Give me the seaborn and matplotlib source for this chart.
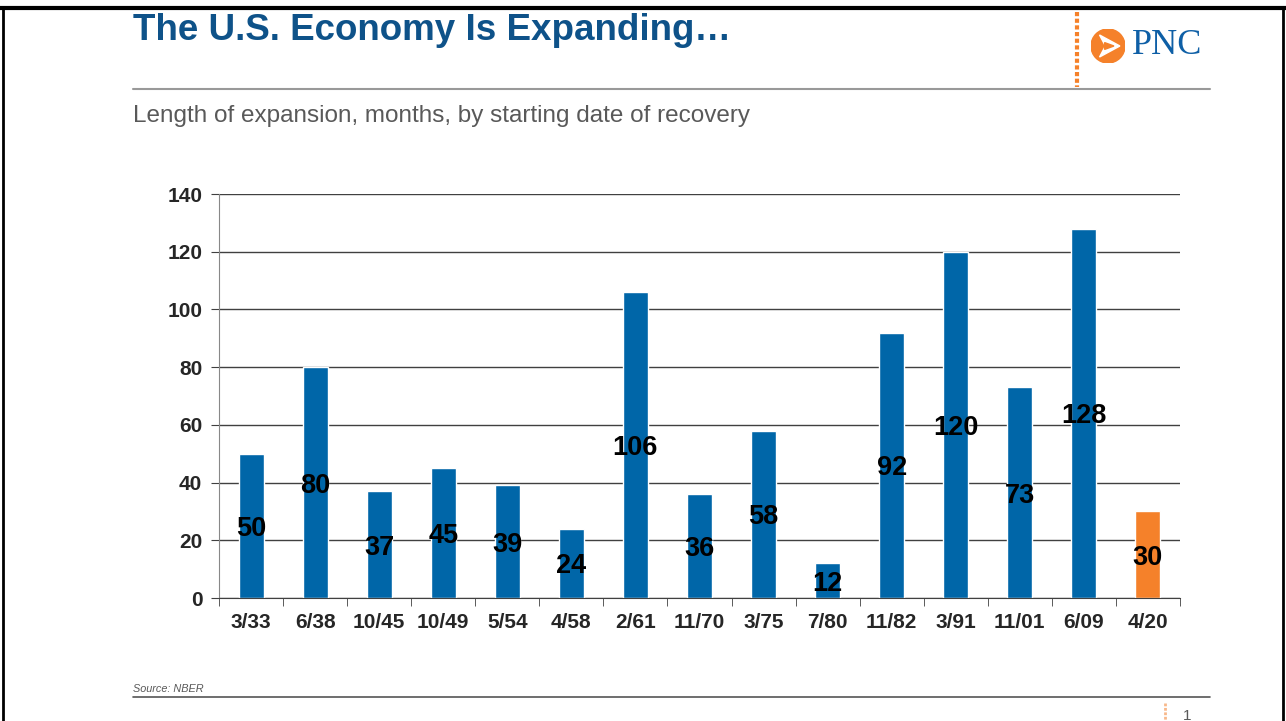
import matplotlib
matplotlib.use("Agg")
import matplotlib.pyplot as plt
import matplotlib.patches as mpatches
import seaborn as sns
import numpy as np
import pandas as pd

# datos
fechas = ["3/33", "6/38", "10/45", "10/49", "5/54", "4/58", "2/61", "11/70",
          "3/75", "7/80", "11/82", "3/91", "11/01", "6/09", "4/20"]
meses = [50, 80, 37, 45, 39, 24, 106, 36, 58, 12, 92, 120, 73, 128, 30]
azul = "#0066a8"
naranja = "#f5812a"
colores = [azul] * (len(fechas) - 1) + [naranja]

df = pd.DataFrame({"fecha": fechas, "meses": meses})

sns.set_style("white")
plt.rcParams["font.family"] = ["Liberation Sans", "DejaVu Sans"]

W, H = 1286, 721
fig = plt.figure(figsize=(W / 100, H / 100), dpi=100)

def fx(px):
    return px / W

def fy(py):
    return 1 - py / H

# marco negro de la diapositiva
fig.add_artist(plt.Line2D([fx(0), fx(1286)], [fy(8), fy(8)], color="black", lw=3))
fig.add_artist(plt.Line2D([fx(3), fx(3)], [fy(8), fy(721)], color="black", lw=2))
fig.add_artist(plt.Line2D([fx(1283), fx(1283)], [fy(8), fy(721)], color="black", lw=2))

# encabezado
fig.text(fx(133), fy(31), "The U.S. Economy Is Expanding\u2026", color="#0e5289",
         fontsize=26.5, fontweight="bold", va="center", ha="left")
fig.add_artist(plt.Line2D([fx(133), fx(1210)], [fy(89), fy(89)], color="#999999", lw=1.5))
fig.add_artist(plt.Line2D([fx(1077), fx(1077)], [fy(12), fy(87)], color=naranja,
                          lw=3, linestyle=(0, (1, 0.6))))
fig.text(fx(133), fy(116), "Length of expansion, months, by starting date of recovery",
         color="#595959", fontsize=17.5, va="center", ha="left")

# logo PNC
ax_logo = fig.add_axes([fx(1091), fy(63), fx(34), 34 / H])
ax_logo.set_xlim(-1, 1)
ax_logo.set_ylim(-1, 1)
ax_logo.set_aspect("equal")
ax_logo.axis("off")
ax_logo.add_patch(mpatches.Circle((0, 0), 1, color=naranja))
ax_logo.add_patch(mpatches.Polygon([[-0.5, 0.65], [0.7, 0.0], [-0.5, -0.65], [-0.15, 0.0]],
                                   closed=True, color="white"))
ax_logo.add_patch(mpatches.Polygon([[-0.2, 0.2], [0.35, 0.0], [-0.2, -0.2]],
                                   closed=True, color=naranja))
fig.text(fx(1132), fy(46), "PNC", color="#0e5fa6", fontsize=26, va="center", ha="left",
         family=["Liberation Serif", "DejaVu Serif"])

# grafico de barras
ax = fig.add_axes([fx(219), fy(598), fx(1180 - 219), (598 - 194) / H])
sns.barplot(data=df, x="fecha", y="meses", hue="fecha", palette=colores,
            legend=False, width=0.39, saturation=1, ax=ax)
ax.set_xlim(-0.5, len(fechas) - 0.5)
ax.set_ylim(0, 140)
ax.set_yticks(np.arange(0, 141, 20))
ax.yaxis.grid(True, color="#404040", lw=1)
ax.set_axisbelow(True)
ax.set_xlabel("")
ax.set_ylabel("")
for s in ["top", "right"]:
    ax.spines[s].set_visible(False)
ax.spines["left"].set_color("#888888")
ax.spines["bottom"].set_color("#404040")
ax.tick_params(axis="y", length=6, color="#404040", labelsize=15, pad=6, left=True)
ax.tick_params(axis="x", which="major", length=0, labelsize=15, pad=11)
ax.set_xticks(np.arange(-0.5, len(fechas), 1), minor=True)
ax.tick_params(axis="x", which="minor", length=6, color="#404040", bottom=True)
for lab in ax.get_xticklabels() + ax.get_yticklabels():
    lab.set_fontweight("bold")

for cont in ax.containers:
    textos = ax.bar_label(cont, label_type="center", fontsize=19.5, fontweight="bold", color="black")
    for t in textos:
        t.set_va("center_baseline")

# pie
fig.text(fx(133), fy(689), "Source: NBER", color="#595959", fontsize=7.8,
         style="italic", va="center", ha="left")
fig.add_artist(plt.Line2D([fx(133), fx(1210)], [fy(697), fy(697)], color="#555555", lw=1.2))
fig.add_artist(plt.Line2D([fx(1165), fx(1165)], [fy(703), fy(721)], color="#f8b88a",
                          lw=2, linestyle=(0, (1, 0.6))))
fig.text(fx(1187), fy(716), "1", color="#595959", fontsize=11, va="center", ha="center")

fig.savefig("out.png", dpi=100)
